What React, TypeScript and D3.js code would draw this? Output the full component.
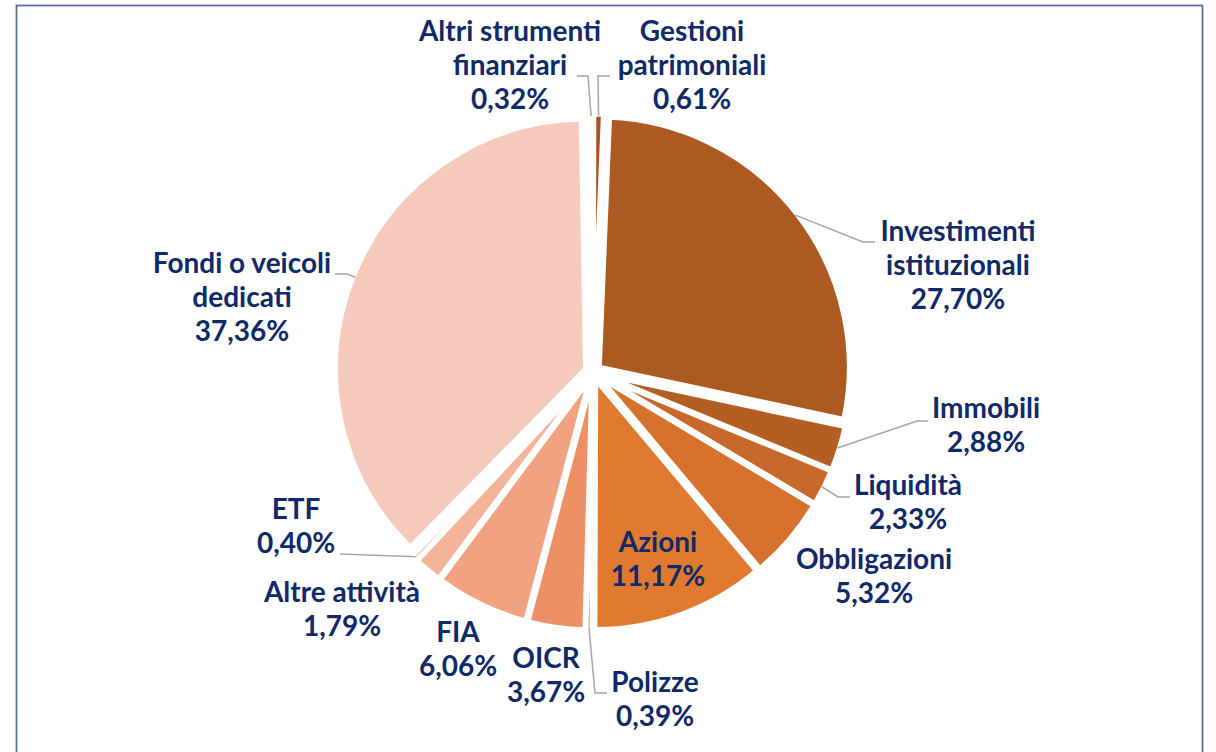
import React, { useEffect, useRef } from 'react';
import * as d3 from 'd3';

// allocation shares (%) — clockwise from the top
const categories = [
  'Altri strumenti finanziari',
  'Gestioni patrimoniali',
  'Investimenti istituzionali',
  'Immobili',
  'Liquidità',
  'Obbligazioni',
  'Azioni',
  'Polizze',
  'OICR',
  'FIA',
  'Altre attività',
  'ETF',
  'Fondi o veicoli dedicati',
];
const values = [0.32, 0.61, 27.7, 2.88, 2.33, 5.32, 11.17, 0.39, 3.67, 6.06, 1.79, 0.4, 37.36];
const valueLabels = ['0,32%', '0,61%', '27,70%', '2,88%', '2,33%', '5,32%', '11,17%', '0,39%', '3,67%', '6,06%', '1,79%', '0,40%', '37,36%'];
const labelLines = [
  ['Altri strumenti', 'finanziari'],
  ['Gestioni', 'patrimoniali'],
  ['Investimenti', 'istituzionali'],
  ['Immobili'],
  ['Liquidità'],
  ['Obbligazioni'],
  ['Azioni'],
  ['Polizze'],
  ['OICR'],
  ['FIA'],
  ['Altre attività'],
  ['ETF'],
  ['Fondi o veicoli', 'dedicati'],
];
const colors = [
  '#fbe6dc', '#a9531f', '#ad5a22', '#b55e24', '#c7692b', '#d6712e', '#e07a31',
  '#e6843f', '#ee9065', '#f1a381', '#f4b49a', '#f5bfaa', '#f6cbbd',
];

// label placement: [centre x, first baseline y], leader elbow points (label side)
const labelPos: [number, number][] = [
  [510, 41], [692, 41], [958, 241], [986, 418], [908, 495], [874, 569], [658, 552],
  [655, 692], [546, 668], [458, 642], [342, 602], [296, 519], [242, 273],
];
const leaders: [number, number][][] = [
  [[588, 76], [577, 76]],
  [[598, 76], [610, 76]],
  [[863, 242], [875, 242]],
  [[917, 421], [928, 421]],
  [[838, 497], [850, 497]],
  [],
  [],
  [[595, 693], [607, 693]],
  [],
  [],
  [],
  [[340, 554]],
  [[347, 274], [335, 274]],
];

const W = 1216;
const H = 752;

const App: React.FC = () => {
  const svgRef = useRef<SVGSVGElement>(null);

  useEffect(() => {
    const svg = d3.select(svgRef.current);
    svg.selectAll('*').remove();

    svg.append('rect')
      .attr('width', W).attr('height', H).attr('fill', '#fff');

    svg.append('rect')
      .attr('x', 16.5).attr('y', 5.5)
      .attr('width', 1186).attr('height', 800)
      .attr('fill', 'none')
      .attr('stroke', '#5a6e9a')
      .attr('stroke-width', 1.8);

    const cx = 593;
    const cy = 372;
    const R = 250;
    const explode = 8;
    const rot = -1 * Math.PI / 180;

    const data = categories.map((c, i) => ({ name: c, value: values[i], i }));
    const pie = d3.pie<any>().value(d => d.value).sort(null)
      .startAngle(rot).endAngle(rot + 2 * Math.PI);
    const arcs = pie(data);
    const arc = d3.arc<any>().innerRadius(0).outerRadius(R);

    const g = svg.append('g').attr('transform', `translate(${cx},${cy})`);

    g.selectAll('path')
      .data(arcs)
      .enter().append('path')
      .attr('d', arc)
      .attr('transform', d => {
        const a = (d.startAngle + d.endAngle) / 2;
        return `translate(${Math.sin(a) * explode},${-Math.cos(a) * explode})`;
      })
      .attr('fill', d => colors[d.data.i])
      .attr('stroke', '#fff')
      .attr('stroke-width', 5)
      .attr('stroke-linejoin', 'miter');

    // leader lines
    arcs.forEach(d => {
      const pts = leaders[d.data.i];
      if (!pts.length) return;
      const a = (d.startAngle + d.endAngle) / 2;
      const rr = R + explode - 2;
      const start: [number, number] = [cx + Math.sin(a) * rr, cy - Math.cos(a) * rr];
      svg.append('path')
        .attr('d', d3.line()([start, ...pts]))
        .attr('fill', 'none')
        .attr('stroke', '#a6a6a6')
        .attr('stroke-width', 1.5);
    });

    // labels
    const lineH = 34;
    arcs.forEach(d => {
      const i = d.data.i;
      const [lx, ly] = labelPos[i];
      const lines = [...labelLines[i], valueLabels[i]];
      const t = svg.append('text')
        .attr('text-anchor', 'middle')
        .attr('font-family', 'Lato, "Open Sans", sans-serif')
        .attr('font-weight', 700)
        .attr('font-size', 28)
        .attr('fill', '#102a68');
      lines.forEach((s, k) => {
        t.append('tspan').attr('x', lx).attr('y', ly + k * lineH).text(s);
      });
    });
  }, []);

  return (
    <div style={{ position: 'absolute', left: 0, top: 0 }}>
      <svg ref={svgRef} width={W} height={H} style={{ display: 'block' }}></svg>
    </div>
  );
};

export default App;
